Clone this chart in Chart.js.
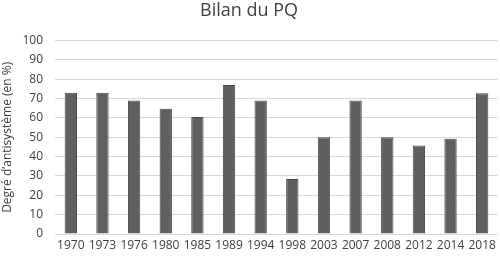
<!DOCTYPE html>
<html>
<head>
<meta charset="utf-8">
<script src="https://cdn.jsdelivr.net/npm/chart.js@4"></script>
<style>
  html, body { margin: 0; padding: 0; background: #fff; }
  #wrap { width: 500px; height: 259px; }
</style>
</head>
<body>
<div id="wrap"><canvas id="chart"></canvas></div>
<script>
const years = ["1970", "1973", "1976", "1980", "1985", "1989", "1994", "1998", "2003", "2007", "2008", "2012", "2014", "2018"];
const antisysteme = [73, 73, 69, 64.7, 60.5, 77, 69, 28.4, 50, 69, 50, 45.8, 49.3, 72.8];
const yTicks = [0, 10, 20, 30, 40, 50, 60, 70, 80, 90, 100];

const textColor = "#404040";
const fontFamily = "'Open Sans', 'Liberation Sans', sans-serif";

new Chart(document.getElementById("chart"), {
    type: "bar",
    data: {
        labels: years,
        datasets: [{
            label: "Bilan du PQ",
            data: antisysteme,
            backgroundColor: "#606060",
            borderColor: "#4a4a4a",
            borderWidth: 1,
            categoryPercentage: 1,
            barPercentage: 0.39
        }]
    },
    options: {
        responsive: true,
        maintainAspectRatio: false,
        animation: false,
        layout: { padding: { left: 0, right: 2, top: 0, bottom: 0 } },
        plugins: {
            legend: { display: false },
            tooltip: { enabled: false },
            title: {
                display: true,
                text: "Bilan du PQ",
                color: "#404040",
                font: { family: fontFamily, size: 18, weight: "normal" },
                padding: { top: 0, bottom: 19 }
            }
        },
        scales: {
            x: {
                grid: { display: false, drawTicks: false },
                border: { display: false },
                ticks: {
                    color: textColor,
                    font: { family: fontFamily, size: 12 },
                    maxRotation: 0,
                    autoSkip: false,
                    padding: 4
                },
                afterFit(axis) { axis.height = 25; }
            },
            y: {
                min: 0,
                max: 100,
                afterBuildTicks(axis) {
                    axis.ticks = yTicks.map(v => ({ value: v }));
                },
                grid: { color: "#d9d9d9", lineWidth: 1, drawTicks: false },
                border: { display: false },
                ticks: {
                    color: textColor,
                    font: { family: fontFamily, size: 12 },
                    padding: 12
                },
                title: {
                    display: true,
                    text: "Degré d’antisystème (en %)",
                    color: textColor,
                    font: { family: fontFamily, size: 12 },
                    padding: 0
                },
                afterFit(axis) { axis.width = 55; }
            }
        }
    }
});
</script>
</body>
</html>
